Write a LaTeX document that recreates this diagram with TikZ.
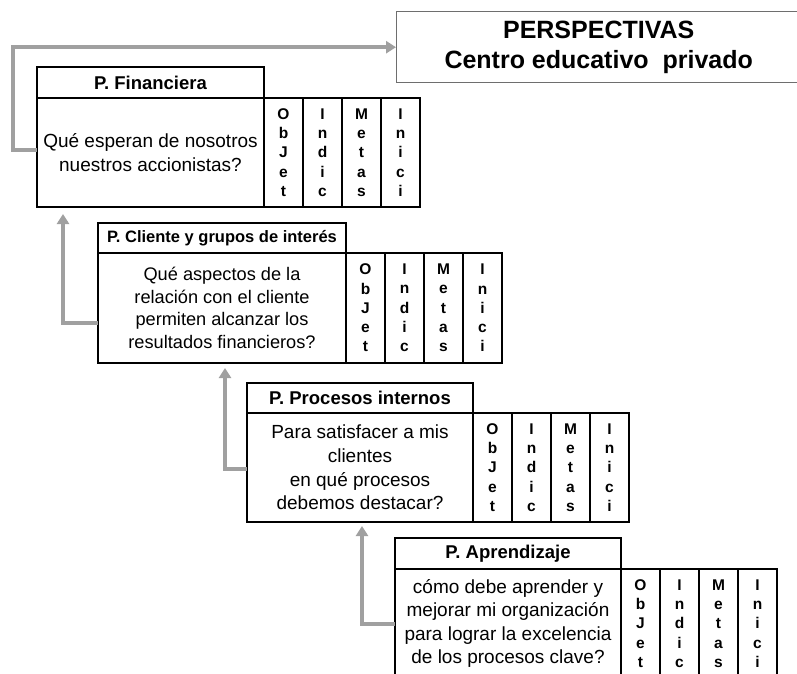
\documentclass[tikz,border=0pt]{standalone}
\usepackage{fontspec}
\setmainfont{Liberation Sans}
\usetikzlibrary{arrows.meta}
\definecolor{flowgray}{RGB}{160,160,160}
\definecolor{framegray}{RGB}{110,110,110}
\begin{document}
\begin{tikzpicture}[x=1pt,y=-1pt,
  box/.style={draw=black, line width=1.9pt, inner sep=0pt, outer sep=0pt},
  thinbox/.style={box, line width=1.1pt},
  hdr/.style={anchor=north west, font=\bfseries\fontsize{18.5}{22}\selectfont},
  body/.style={align=center, anchor=north west, font=\fontsize{19}{23.6}\selectfont},
  col/.style={align=center, anchor=north west, minimum width=39pt,
    font=\bfseries\fontsize{15.5}{19.3}\selectfont},
  flow/.style={draw=flowgray, line width=4pt,
    -{Triangle[length=10pt,width=12pt]}}
]
\clip[use as bounding box] (0,0) rectangle (797,673);
\fill[white] (0,0) rectangle (797,673);

% title box
\node[draw=framegray, line width=1.4pt, inner sep=0pt, anchor=north west,
      minimum width=404pt, minimum height=71pt, align=center,
      font=\bfseries\fontsize{25}{32}\selectfont] (persp) at (396,11)
  {\raisebox{-2pt}{PERSPECTIVAS}\\Centro educativo\ \ privado};

% financial perspective
\node[thinbox, hdr, minimum width=227pt, minimum height=31pt] (finH) at (37,67) {P. Financiera};
\node[thinbox, body, minimum width=227pt, minimum height=109pt] (finB) at (finH.south west)
  {Qué esperan de nosotros\\nuestros accionistas?};
\node[thinbox, col, minimum height=109pt] (finC1) at (finB.north east) {O\\b\\J\\e\\t};
\node[thinbox, col, minimum height=109pt] (finC2) at (finC1.north east) {I\\n\\d\\i\\c};
\node[thinbox, col, minimum height=109pt] (finC3) at (finC2.north east) {M\\e\\t\\a\\s};
\node[thinbox, col, minimum height=109pt] (finC4) at (finC3.north east) {I\\n\\i\\c\\i};

% customer perspective
\node[box, hdr, font=\bfseries\fontsize{16.5}{20}\selectfont, minimum width=248pt, minimum height=30pt] (cliH) at (98,223)
  {P. Cliente y grupos de interés};
\node[box, body, font=\fontsize{18.2}{22.6}\selectfont, minimum width=248pt, minimum height=110pt] (cliB) at (cliH.south west)
  {Qué aspectos de la\\relación con el cliente\\permiten alcanzar los\\resultados financieros?};
\node[box, col, minimum height=110pt] (cliC1) at (cliB.north east) {O\\b\\J\\e\\t};
\node[box, col, minimum height=110pt] (cliC2) at (cliC1.north east) {I\\n\\d\\i\\c};
\node[box, col, minimum height=110pt] (cliC3) at (cliC2.north east) {M\\e\\t\\a\\s};
\node[box, col, minimum height=110pt] (cliC4) at (cliC3.north east) {I\\n\\i\\c\\i};

% internal process perspective
\node[box, hdr, minimum width=226pt, minimum height=30pt] (proH) at (247,383) {P. Procesos internos};
\node[box, body, minimum width=226pt, minimum height=109pt] (proB) at (proH.south west)
  {Para satisfacer a mis\\clientes\\en qué procesos\\debemos destacar?};
\node[box, col, minimum height=109pt] (proC1) at (proB.north east) {O\\b\\J\\e\\t};
\node[box, col, minimum height=109pt] (proC2) at (proC1.north east) {I\\n\\d\\i\\c};
\node[box, col, minimum height=109pt] (proC3) at (proC2.north east) {M\\e\\t\\a\\s};
\node[box, col, minimum height=109pt] (proC4) at (proC3.north east) {I\\n\\i\\c\\i};

% learning perspective
\node[box, hdr, minimum width=226pt, minimum height=31pt] (aprH) at (395,538) {P. Aprendizaje};
\node[box, body, minimum width=226pt, minimum height=109pt] (aprB) at (aprH.south west)
  {cómo debe aprender y\\mejorar mi organización\\para lograr la excelencia\\de los procesos clave?};
\node[box, col, minimum height=109pt] (aprC1) at (aprB.north east) {O\\b\\J\\e\\t};
\node[box, col, minimum height=109pt] (aprC2) at (aprC1.north east) {I\\n\\d\\i\\c};
\node[box, col, minimum height=109pt] (aprC3) at (aprC2.north east) {M\\e\\t\\a\\s};
\node[box, col, minimum height=109pt] (aprC4) at (aprC3.north east) {I\\n\\i\\c\\i};

% arrow ends
\coordinate (finTip) at (63,214);
\coordinate (cliTip) at (225,368);
\coordinate (proTip) at (362,526);
\coordinate (finTurn) at (13,150);

% connectors (yshift is in page units: negative moves down)
\draw[flow] ([yshift=2.5pt]finB.west) -- (finTurn) |- (persp.west);
\draw[flow] ([yshift=-15pt]cliB.west) -| (finTip);
\draw[flow] ([yshift=-1.5pt]proB.west) -| (cliTip);
\draw[flow] (aprB.west) -| (proTip);
\end{tikzpicture}
\end{document}
